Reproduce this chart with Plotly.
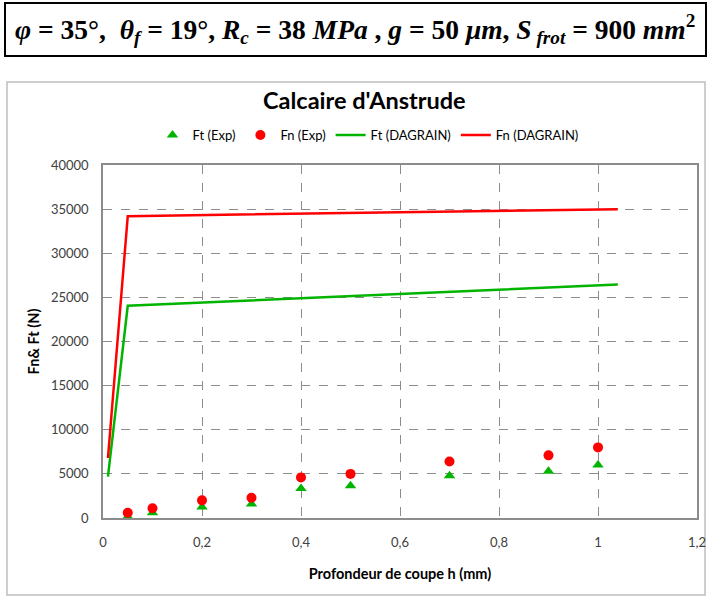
import plotly.graph_objects as go

# Experimental data
h_exp = [0.05, 0.1, 0.2, 0.3, 0.4, 0.5, 0.7, 0.9, 1.0]
ft_exp = [150, 600, 1250, 1600, 3350, 3650, 4800, 5300, 6000]
fn_exp = [600, 1100, 2000, 2300, 4600, 5000, 6400, 7100, 8000]

# DAGRAIN model
h_model = [0.01, 0.05, 1.04]
ft_model = [4700, 24050, 26450]
fn_model = [6800, 34200, 35000]

x_ticks = [0, 0.2, 0.4, 0.6, 0.8, 1.0, 1.2]
x_ticktext = ["0", "0,2", "0,4", "0,6", "0,8", "1", "1,2"]
y_ticks = [0, 5000, 10000, 15000, 20000, 25000, 30000, 35000, 40000]
y_ticktext = ["0", "5000", "10000", "15000", "20000", "25000", "30000", "35000", "40000"]

GREEN = "#00B400"
RED = "#FF0000"

fig = go.Figure()
fig.add_trace(go.Scatter(x=h_exp, y=ft_exp, mode="markers", name="Ft (Exp)",
                         marker=dict(symbol="triangle-up", size=10, color=GREEN)))
fig.add_trace(go.Scatter(x=h_exp, y=fn_exp, mode="markers", name="Fn (Exp)",
                         marker=dict(symbol="circle", size=10, color=RED)))
fig.add_trace(go.Scatter(x=h_model, y=ft_model, mode="lines", name="Ft (DAGRAIN)",
                         line=dict(color=GREEN, width=2.5)))
fig.add_trace(go.Scatter(x=h_model, y=fn_model, mode="lines", name="Fn (DAGRAIN)",
                         line=dict(color=RED, width=2.5)))

L, R, T, B = 103, 12, 165, 81
W, H = 709, 599
pw, ph = W - L - R, H - T - B

def px(x):
    return (x - L) / pw

def py(y):
    return (H - B - y) / ph

FONT = "Lato, Open Sans, sans-serif"
tickfont = dict(family=FONT, size=13, color="#404040")

fig.update_layout(
    width=W, height=H,
    margin=dict(l=L, r=R, t=T, b=B, autoexpand=False),
    paper_bgcolor="white", plot_bgcolor="white",
    showlegend=True,
    legend=dict(orientation="h", x=px(368), xanchor="center", y=py(135), yanchor="middle",
                font=dict(family=FONT, size=13, color="#000000"),
                itemwidth=30, tracegroupgap=0, bgcolor="rgba(0,0,0,0)"),
    xaxis=dict(range=[0, 1.2], tickvals=x_ticks, ticktext=x_ticktext,
               showgrid=True, gridcolor="#8c8c8c", griddash="dash", gridwidth=1,
               showline=True, linecolor="#8c8c8c", linewidth=1.5, mirror=True,
               zeroline=False, ticks="", tickfont=tickfont, ticklabelstandoff=12,
               title=dict(text="<b>Profondeur de coupe h (mm)</b>",
                          font=dict(family=FONT, size=14.5, color="#000000"),
                          standoff=20)),
    yaxis=dict(range=[0, 40000], tickvals=y_ticks, ticktext=y_ticktext,
               showgrid=True, gridcolor="#8c8c8c", griddash="dash", gridwidth=1,
               showline=True, linecolor="#8c8c8c", linewidth=1.5, mirror=True,
               zeroline=False, ticks="", tickfont=tickfont, ticklabelstandoff=10,
               title=dict(text="<b>Fn& Ft (N)</b>",
                          font=dict(family=FONT, size=14.5, color="#000000"),
                          standoff=8)),
    shapes=[
        dict(type="rect", xref="paper", yref="paper",
             x0=px(5), x1=px(706), y0=py(56), y1=py(3),
             line=dict(color="black", width=2), fillcolor="rgba(0,0,0,0)", layer="above"),
        dict(type="rect", xref="paper", yref="paper",
             x0=px(7), x1=px(705), y0=py(595), y1=py(82),
             line=dict(color="#bfbfbf", width=1.5), fillcolor="rgba(0,0,0,0)", layer="below"),
    ],
    annotations=[
        dict(xref="paper", yref="paper", x=px(13), y=py(29), xanchor="left", yanchor="middle",
             showarrow=False,
             text="<b><i>φ</i> = 35°,  <i>θ</i><sub><i>f</i></sub> = 19°, <i>R</i><sub><i>c</i></sub> = 38 <i>MPa</i> , "
                  "<i>g</i> = 50 <i>μm</i>, <i>S</i><sub> <i>frot</i></sub> = 900 <i>mm</i><sup>2</sup></b>",
             font=dict(family="Liberation Serif, serif", size=27.5, color="black")),
        dict(xref="paper", yref="paper", x=px(364), y=py(100), xanchor="center", yanchor="middle",
             showarrow=False, text="<b>Calcaire d'Anstrude</b>",
             font=dict(family=FONT, size=23.5, color="black")),
    ],
)

fig.write_html("out.html", config={"displayModeBar": False},
               post_script="document.body.style.margin='0';")
